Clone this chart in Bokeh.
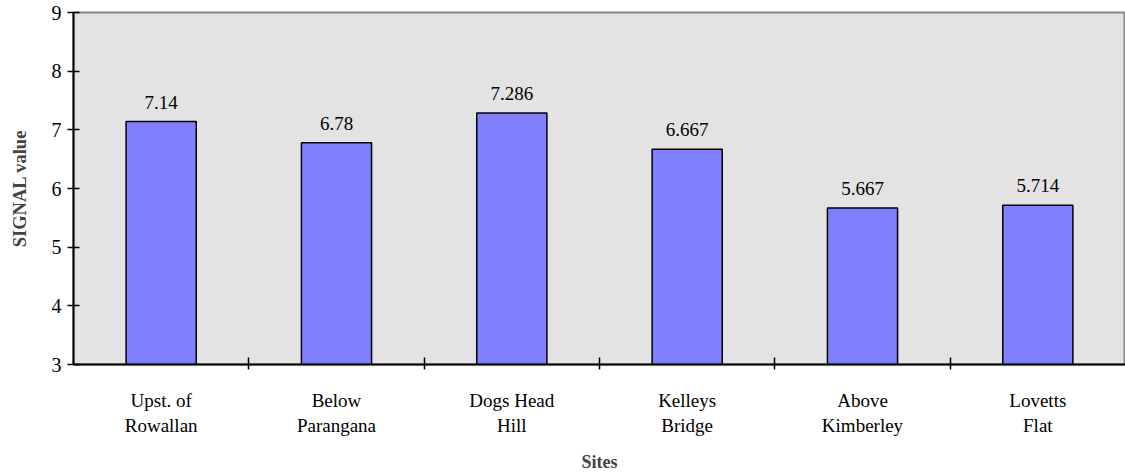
from bokeh.plotting import figure
from bokeh.models import ColumnDataSource, LabelSet, FixedTicker, Range1d
from bokeh.embed import file_html
from bokeh.resources import INLINE

sites = ["Upst. of\nRowallan", "Below\nParangana", "Dogs Head\nHill", "Kelleys\nBridge", "Above\nKimberley", "Lovetts\nFlat"]
values = [7.14, 6.78, 7.286, 6.667, 5.667, 5.714]
value_labels = ["7.14", "6.78", "7.286", "6.667", "5.667", "5.714"]
y_ticks = [3, 4, 5, 6, 7, 8, 9]

n = len(sites)
centers = [i + 0.5 for i in range(n)]
bounds = [i for i in range(1, n)]

src = ColumnDataSource(dict(x=centers, top=values, lab=value_labels))

p = figure(width=1125, height=474, output_backend="svg", toolbar_location=None,
           x_range=Range1d(0, n), y_range=Range1d(3, 9),
           min_border_left=73, min_border_right=0, min_border_top=12, min_border_bottom=107)

p.background_fill_color = "#E3E3E3"
p.border_fill_color = "white"
p.outline_line_color = "#888888"
p.outline_line_width = 2
p.grid.visible = False

p.vbar(x="x", top="top", bottom=3, width=0.4, source=src,
       fill_color="#8080FF", line_color="black", line_width=1.5)

font = "Liberation Serif"

labels = LabelSet(x="x", y="top", text="lab", source=src, text_align="center",
                  text_baseline="bottom", y_offset=13, text_font=font,
                  text_font_size="19px", text_color="black")
p.add_layout(labels)

xa = p.xaxis[0]
xa.ticker = FixedTicker(ticks=centers, minor_ticks=bounds)
xa.major_label_overrides = {c: s for c, s in zip(centers, sites)}
xa.major_tick_in = 0
xa.major_tick_out = 0
xa.minor_tick_in = 7
xa.minor_tick_out = 5
xa.minor_tick_line_color = "black"
xa.minor_tick_line_width = 1.5
xa.axis_line_color = "black"
xa.axis_line_width = 2
xa.major_label_text_font = font
xa.major_label_text_font_size = "19px"
xa.major_label_text_color = "black"
xa.major_label_standoff = 20
xa.axis_label = "Sites"
xa.axis_label_text_font = font
xa.axis_label_text_font_style = "bold"
xa.axis_label_text_font_size = "18px"
xa.axis_label_standoff = 13

ya = p.yaxis[0]
ya.ticker = FixedTicker(ticks=y_ticks)
ya.minor_tick_line_color = None
ya.major_tick_in = 6
ya.major_tick_out = 6
ya.major_tick_line_color = "black"
ya.major_tick_line_width = 1.5
ya.axis_line_color = "black"
ya.axis_line_width = 2
ya.major_label_text_font = font
ya.major_label_text_font_size = "20px"
ya.major_label_text_color = "black"
ya.major_label_standoff = 6
ya.axis_label = "SIGNAL value"
ya.axis_label_text_font = font
ya.axis_label_text_font_style = "bold"
ya.axis_label_text_font_size = "18.5px"
ya.axis_label_standoff = 19

open("out.html", "w").write(file_html(p, INLINE))
